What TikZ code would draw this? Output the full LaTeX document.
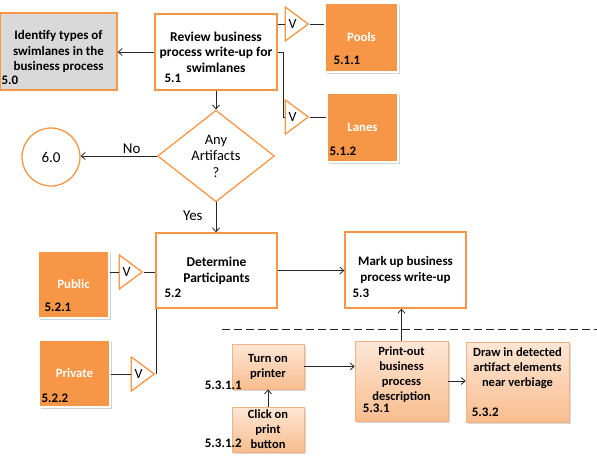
\documentclass[tikz,border=0pt]{standalone}
\usepackage{fontspec}
\setmainfont{Carlito}
\usetikzlibrary{positioning}
\usetikzlibrary{calc}
\usetikzlibrary{shapes.geometric}
\usetikzlibrary{shadows}
\usetikzlibrary{arrows.meta}

\definecolor{accorange}{HTML}{F79646}
\definecolor{boxgray}{HTML}{D9D9D9}
\definecolor{peachtop}{HTML}{FDE7D6}
\definecolor{peachbot}{HTML}{F9BD8E}
\definecolor{peachline}{HTML}{F4B183}
\definecolor{linegray}{HTML}{262626}

\begin{document}
\begin{tikzpicture}[x=1pt, y=-1pt,
    process/.style={rectangle, draw=accorange, line width=1.3pt, fill=white, align=center, inner sep=0pt, font=\bfseries\fontsize{13}{15.5}\selectfont},
    laneblock/.style={rectangle, draw=white, line width=1.2pt, fill=accorange, text=white, align=center, inner sep=0pt, font=\bfseries\fontsize{12.8}{15}\selectfont, drop shadow={shadow xshift=1.5pt, shadow yshift=-1.5pt, opacity=.35}},
    subtask/.style={rectangle, draw=peachline, line width=0.6pt, top color=peachtop, bottom color=peachbot, align=center, inner sep=0pt, font=\bfseries\fontsize{12.5}{15}\selectfont, drop shadow={shadow xshift=1.5pt, shadow yshift=-1.5pt, opacity=.3}},
    decision/.style={diamond, draw=accorange, line width=1.3pt, fill=white, align=center, inner sep=0pt, font=\fontsize{14.5}{16.5}\selectfont},
    endpoint/.style={circle, draw=accorange, line width=1.3pt, fill=white, minimum size=58pt, inner sep=0pt, font=\fontsize{15}{18}\selectfont},
    orgate/.style={isosceles triangle, isosceles triangle stretches=true, draw=accorange, line width=1.3pt, fill=white, minimum width=34pt, minimum height=23pt, inner sep=0pt, font=\fontsize{14}{14}\selectfont},
    stepnum/.style={anchor=west, inner sep=0pt, font=\bfseries\fontsize{13}{14}\selectfont},
    edgelbl/.style={inner sep=2pt, font=\fontsize{15}{17}\selectfont},
    flow/.style={draw=linegray, line width=0.8pt, -{Straight Barb[length=4pt,width=7pt]}},
    link/.style={draw=linegray, line width=0.8pt}]
    \useasboundingbox (0,0) rectangle (597,458);

    \node[process, fill=boxgray, minimum width=117pt, minimum height=77pt] (b50) at (58.5,51.5) {Identify types of\\swimlanes in the\\business process};
    \node[process, minimum width=122pt, minimum height=76pt, font=\bfseries\fontsize{13.5}{15.5}\selectfont] (b51) at (216,52) {Review business\\process write-up for\\swimlanes};
    \node[laneblock, minimum width=73pt, minimum height=69pt] (b511) at (361.5,37.5) {Pools};
    \node[laneblock, minimum width=71pt, minimum height=69pt] (b512) at (362.5,127.5) {Lanes};
    \node[orgate, anchor=apex] (v1) at (310,24) {V};
    \node[orgate, anchor=apex] (v2) at (310,117) {V};
    \node[decision, minimum width=117pt, minimum height=73pt] (dq) at (216,156) {Any\\Artifacts\\?};
    \node[endpoint] (c60) at (51,157) {6.0};

    \node[process, minimum width=121pt, minimum height=75pt, font=\bfseries\fontsize{13.5}{16}\selectfont] (b52) at (216.5,270.5) {Determine\\Participants};
    \node[laneblock, minimum width=71pt, minimum height=67pt] (b521) at (73.5,284.5) {Public};
    \node[laneblock, minimum width=71pt, minimum height=67pt] (b522) at (74.5,373.5) {Private};
    \node[orgate, anchor=apex] (v3) at (144,272) {V};
    \node[orgate, anchor=apex] (v4) at (156,374) {V};
    \node[process, minimum width=121pt, minimum height=76pt] (b53) at (405.5,270) {Mark up business\\process write-up};

    \coordinate (cutl) at (222,329);
    \coordinate (cutr) at (597,329);
    \node[subtask, minimum width=72pt, minimum height=45pt] (p11) at (268,366.5) {Turn on\\printer};
    \node[subtask, minimum width=72pt, minimum height=45pt] (p12) at (268,429.5) {Click on\\print\\button};
    \node[subtask, minimum width=93pt, minimum height=80pt] (p1) at (401.5,381) {Print-out\\business\\process\\description\\~};
    \node[subtask, minimum width=103pt, minimum height=80pt] (p2) at (517.5,382) {Draw in detected\\artifact elements\\near verbiage\\~\\~};

    \node[stepnum] (n50) at ([shift={(2pt,10pt)}]b50.south west) {5.0};
    \node[stepnum] (n51) at ([shift={(10pt,12pt)}]b51.south west) {5.1};
    \node[stepnum] (n511) at ([shift={(9pt,12pt)}]b511.south west) {5.1.1};
    \node[stepnum] (n512) at ([shift={(3pt,11pt)}]b512.south west) {5.1.2};
    \node[stepnum] (n52) at ([shift={(9pt,15pt)}]b52.south west) {5.2};
    \node[stepnum] (n521) at ([shift={(7pt,11pt)}]b521.south west) {5.2.1};
    \node[stepnum] (n522) at ([shift={(3pt,9pt)}]b522.south west) {5.2.2};
    \node[stepnum] (n53) at ([shift={(8pt,15pt)}]b53.south west) {5.3};
    \node[stepnum] (n531) at ([shift={(8pt,13pt)}]p1.south west) {5.3.1};
    \node[stepnum] (n532) at ([shift={(6pt,10pt)}]p2.south west) {5.3.2};
    \node[stepnum] (n5311) at ([shift={(-27pt,4pt)}]p11.south west) {5.3.1.1};
    \node[stepnum] (n5312) at ([shift={(-27pt,9pt)}]p12.south west) {5.3.1.2};

    \draw[flow] (b51.west) -- (b51.west -| b50.east);
    \draw[link] (b51.east |- v1.west) -- (v1.west);
    \draw[link] (v1.apex) -- (v1.apex -| b511.west);
    \draw[link] (b51.east) -- ++(6,0) |- (v2.west);
    \draw[link] (v2.apex) -- (v2.apex -| b512.west);
    \draw[flow] (b51.south) -- (dq.north);
    \draw[flow] (dq.west) -- node[edgelbl, anchor=south, pos=0.33] {No} (dq.west -| c60.east);
    \draw[flow] (dq.south) -- node[edgelbl, anchor=east, xshift=-11pt, pos=0.44] {Yes} (dq.south |- b52.north);
    \draw[link] (b521.east |- v3.west) -- (v3.west);
    \draw[link] (v3.apex) -- (v3.apex -| b52.west);
    \draw[link] (b522.east |- v4.west) -- (v4.west);
    \draw[link] (v4.apex) -- (v4.apex |- b52.south west);
    \draw[flow] (b52.east) -- (b52.east -| b53.west);
    \draw[line width=1pt, draw=linegray, dash pattern=on 8pt off 4pt] (cutl) -- (cutr);
    \draw[flow] (p12.north) -- (p11.south);
    \draw[flow] (p11.east) -- (p11.east -| p1.west);
    \draw[flow] (p1.north) -- (p1.north |- b53.south);
    \draw[flow] (p1.east) -- (p1.east -| p2.west);
\end{tikzpicture}
\end{document}
